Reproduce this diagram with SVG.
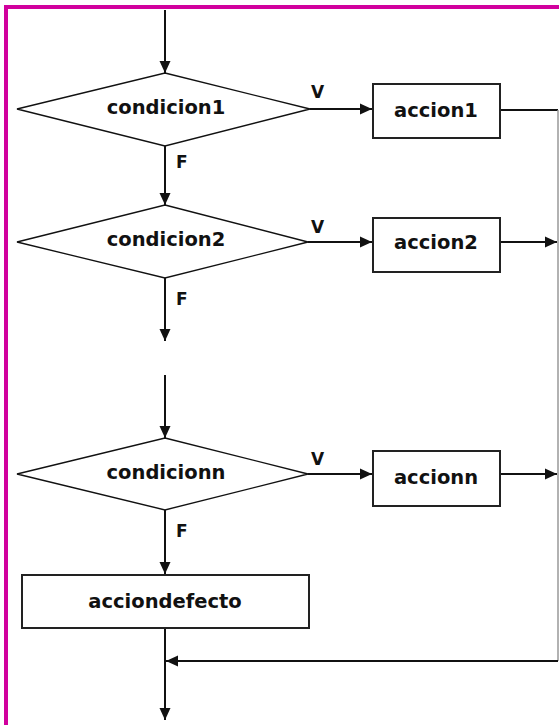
<svg xmlns="http://www.w3.org/2000/svg" width="559" height="725" viewBox="0 0 559 725">
<style>
.lbl{font-family:"DejaVu Sans",sans-serif;font-weight:bold;font-size:19.5px;fill:#111;text-anchor:middle}
.sm{font-family:"DejaVu Sans",sans-serif;font-weight:bold;font-size:17px;fill:#111}
.dia{fill:#fff;stroke:#111;stroke-width:1.3}
.box{fill:#fff;stroke:#222;stroke-width:2}
.ln{stroke:#111;stroke-width:2;fill:none}
.gr{stroke:#999;stroke-width:1.5;fill:none}
</style>
<defs>
<marker id="ah" markerUnits="userSpaceOnUse" markerWidth="13" markerHeight="13" viewBox="0 0 13 13" refX="12" refY="6.5" orient="auto">
<path d="M0,1 L12,6.5 L0,12 z" fill="#111"/>
</marker>
</defs>
<rect x="0" y="0" width="559" height="725" fill="#fff"/>
<g id="border">
<rect x="4" y="5" width="555" height="4" fill="#d1009d"/>
<rect x="4" y="5" width="4" height="720" fill="#d1009d"/>
</g>
<g id="connectors">
<line class="ln" x1="165" y1="10" x2="165" y2="73" marker-end="url(#ah)"/>
<line class="ln" x1="310" y1="109" x2="372" y2="109" marker-end="url(#ah)"/>
<line class="ln" x1="165" y1="146" x2="165" y2="205" marker-end="url(#ah)"/>
<line class="ln" x1="500" y1="110" x2="558" y2="110"/>
<line class="gr" x1="558" y1="110" x2="558" y2="661"/>
<line class="ln" x1="308" y1="242" x2="372" y2="242" marker-end="url(#ah)"/>
<line class="ln" x1="500" y1="242" x2="557" y2="242" marker-end="url(#ah)"/>
<line class="ln" x1="165" y1="278" x2="165" y2="341" marker-end="url(#ah)"/>
<line class="ln" x1="165" y1="375" x2="165" y2="438" marker-end="url(#ah)"/>
<line class="ln" x1="308" y1="474" x2="372" y2="474" marker-end="url(#ah)"/>
<line class="ln" x1="500" y1="474" x2="557" y2="474" marker-end="url(#ah)"/>
<line class="ln" x1="165" y1="510" x2="165" y2="574" marker-end="url(#ah)"/>
<line class="ln" x1="165" y1="628" x2="165" y2="720" marker-end="url(#ah)"/>
<line class="ln" x1="558" y1="661" x2="166" y2="661" marker-end="url(#ah)"/>
<text class="sm" x="311" y="98">V</text>
<text class="sm" x="176" y="168">F</text>
<text class="sm" x="311" y="233">V</text>
<text class="sm" x="176" y="305">F</text>
<text class="sm" x="311" y="465">V</text>
<text class="sm" x="176" y="537">F</text>
</g>
<g id="condicion1">
<polygon class="dia" points="165,73 310,109 165,146 17,109"/>
<text class="lbl" x="166" y="114">condicion1</text>
</g>
<g id="accion1">
<rect class="box" x="373" y="84" width="127" height="54"/>
<text class="lbl" x="436" y="117">accion1</text>
</g>
<g id="condicion2">
<polygon class="dia" points="165,205 308,242 165,278 17,242"/>
<text class="lbl" x="166" y="246">condicion2</text>
</g>
<g id="accion2">
<rect class="box" x="373" y="218" width="127" height="54"/>
<text class="lbl" x="436" y="249">accion2</text>
</g>
<g id="condicionn">
<polygon class="dia" points="165,438 308,474 165,510 17,474"/>
<text class="lbl" x="166" y="479">condicionn</text>
</g>
<g id="accionn">
<rect class="box" x="373" y="451" width="127" height="55"/>
<text class="lbl" x="436" y="484">accionn</text>
</g>
<g id="acciondefecto">
<rect class="box" x="22" y="575" width="287" height="53"/>
<text class="lbl" x="165" y="608">acciondefecto</text>
</g>
</svg>
